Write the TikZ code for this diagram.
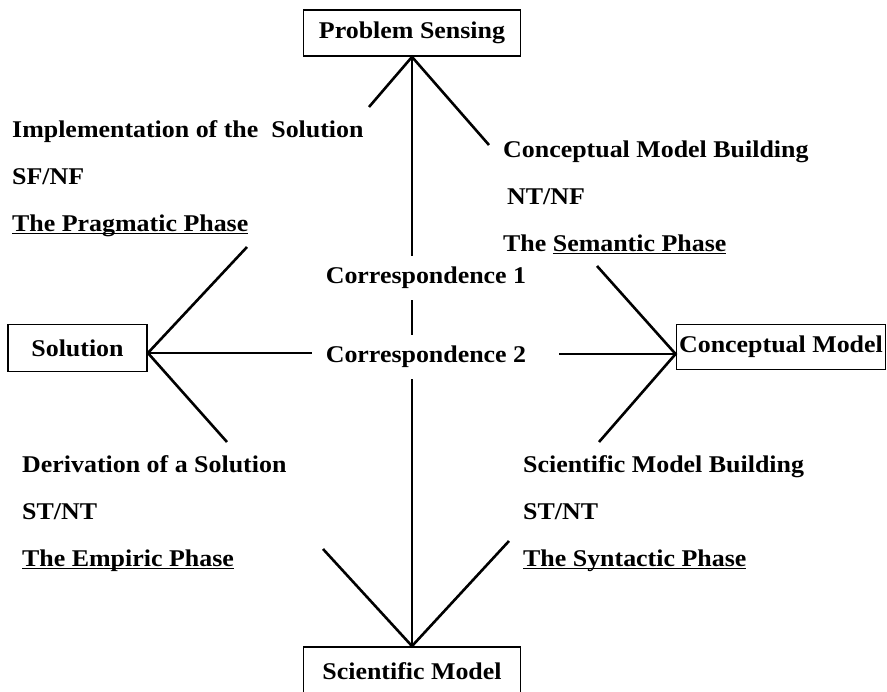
\documentclass[tikz,border=0pt]{standalone}
\usepackage{fontspec}
\setmainfont{Liberation Serif}[FakeStretch=1.08]
\usepackage{tikz}
\newcommand\underphase[1]{\underline{\smash{#1}}}

\begin{document}
\begin{tikzpicture}[x=1pt,y=-1pt,
    box/.style={draw,line width=1.8pt,inner sep=0pt,minimum height=46pt,font=\fontsize{24}{28}\selectfont\bfseries},
    phase/.style={anchor=base west,inner sep=0pt,font=\fontsize{24}{28}\selectfont\bfseries},
    corr/.style={inner xsep=14pt,inner ysep=11pt,font=\fontsize{24}{28}\selectfont\bfseries},
    link/.style={line width=2.6pt},
    axis/.style={line width=2pt}]
    \useasboundingbox (0,0) rectangle (887,692);
    \node[box,minimum width=217pt] (problem) at (412,33) {Problem Sensing};
    \node[box,minimum width=139pt,minimum height=47pt] (solution) at (77.5,348) {Solution};
    \node[box,minimum width=209pt,minimum height=45pt] (concept) at (781,347) {Conceptual Model};
    \node[box,minimum width=217pt,minimum height=48pt] (scimodel) at (412,671) {Scientific Model};
    \node[corr] (corr1) at (426,278) {Correspondence 1};
    \node[corr] (corr2) at (426,357) {Correspondence 2};
    \coordinate (sol-apex) at ([yshift=-5pt]solution.east);
    \coordinate (cm-apex) at ([yshift=-7pt]concept.west);
    \coordinate (ps-l) at (369,107);
    \coordinate (ps-r) at (489,145);
    \coordinate (sol-u) at (247,247);
    \coordinate (sol-d) at (227,442);
    \coordinate (cm-u) at (597,266);
    \coordinate (cm-d) at (599,442);
    \coordinate (sm-l) at (323,549);
    \coordinate (sm-r) at (509,541);
    \node[phase] (impl) at (12,138) {Implementation of the~~Solution};
    \node[phase] (sfnf) at (12,185) {SF/NF};
    \node[phase] (prag) at (12,232) {\underphase{The Pragmatic Phase}};
    \node[phase] (cmb) at (503,158) {Conceptual Model Building};
    \node[phase] (ntnf) at (507,205) {NT/NF};
    \node[phase] (sem) at (503,252) {The \underphase{Semantic Phase}};
    \node[phase] (der) at (22,473) {Derivation of a Solution};
    \node[phase] (stnt1) at (22,520) {ST/NT};
    \node[phase] (emp) at (22,567) {\underphase{The Empiric Phase}};
    \node[phase] (smb) at (523,473) {Scientific Model Building};
    \node[phase] (stnt2) at (523,520) {ST/NT};
    \node[phase] (syn) at (523,567) {\underphase{The Syntactic Phase}};
    \draw[axis] (problem.south) -- (problem.south |- corr1.north);
    \draw[axis] (problem.south |- corr1.south) -- (problem.south |- corr2.north);
    \draw[axis] (problem.south |- corr2.south) -- (scimodel.north);
    \draw[link] (sol-apex) -- (sol-apex -| corr2.west);
    \draw[link] (cm-apex -| corr2.east) ++(19,0) -- (cm-apex);
    \draw[link] (ps-l) -- (problem.south) -- (ps-r);
    \draw[link] (sol-u) -- (sol-apex) -- (sol-d);
    \draw[link] (cm-u) -- (cm-apex) -- (cm-d);
    \draw[link] (sm-l) -- (scimodel.north) -- (sm-r);
\end{tikzpicture}
\end{document}
